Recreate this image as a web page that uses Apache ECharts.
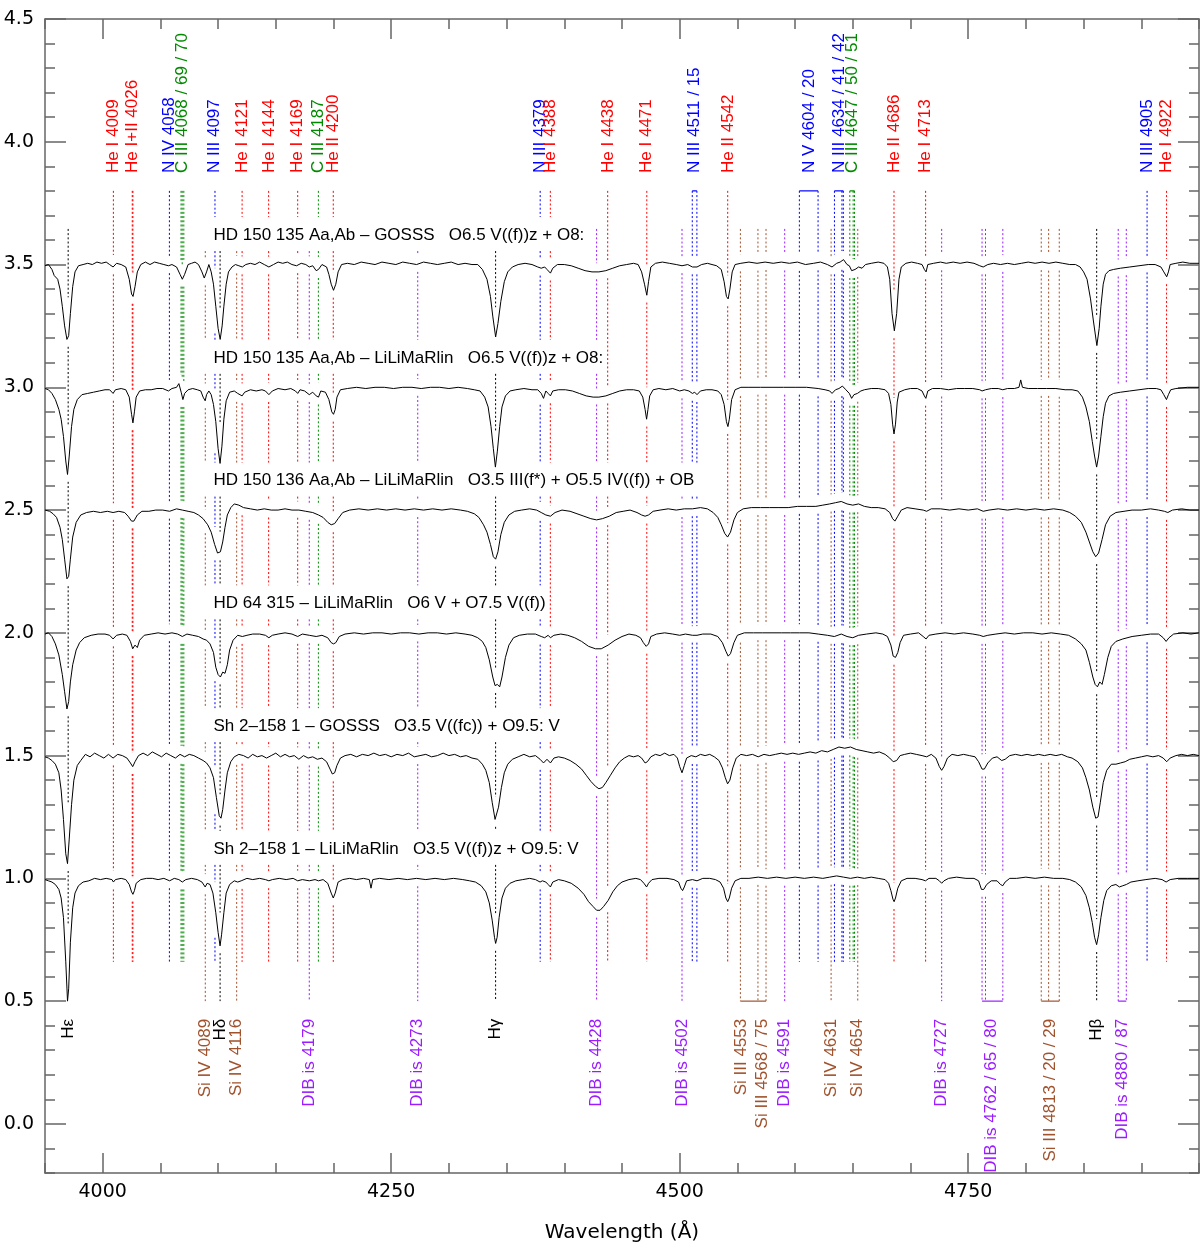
<!DOCTYPE html>
<html><head><meta charset="utf-8">
<script src="https://cdn.jsdelivr.net/npm/echarts@6/dist/echarts.min.js"></script>
<style>html,body{margin:0;padding:0;background:#fff}#c{width:1200px;height:1249px}</style>
</head><body><div id="c"></div>
<script>
// ---------------- DATA ----------------
const xMajorTicks = [4000, 4250, 4500, 4750];
const xMinorTicks = [3950,4050,4100,4150,4200,4300,4350,4400,4450,4550,4600,4650,4700,4800,4850,4900,4950];
const yMajorTicks = [0.0,0.5,1.0,1.5,2.0,2.5,3.0,3.5,4.0,4.5];
const yMinorTicks = [-0.2,-0.1,0.1,0.2,0.3,0.4,0.6,0.7,0.8,0.9,1.1,1.2,1.3,1.4,1.6,1.7,1.8,1.9,2.1,2.2,2.3,2.4,2.6,2.7,2.8,2.9,3.1,3.2,3.3,3.4,3.6,3.7,3.8,3.9,4.1,4.2,4.3,4.4];

const specNames = [
 "HD 150 135 Aa,Ab – GOSSS   O6.5 V((f))z + O8:",
 "HD 150 135 Aa,Ab – LiLiMaRlin   O6.5 V((f))z + O8:",
 "HD 150 136 Aa,Ab – LiLiMaRlin   O3.5 III(f*) + O5.5 IV((f)) + OB",
 "HD 64 315 – LiLiMaRlin   O6 V + O7.5 V((f))",
 "Sh 2–158 1 – GOSSS   O3.5 V((fc)) + O9.5: V",
 "Sh 2–158 1 – LiLiMaRlin   O3.5 V((f))z + O9.5: V"
];
const specContinuum = [3.5, 3.0, 2.5, 2.0, 1.5, 1.0];

const spec1 = [[3950,3.495],[3953,3.50],[3956,3.48],[3958,3.455],[3961,3.44],[3963,3.40],[3965,3.33],[3967,3.25],[3969,3.195],[3970.5,3.21],[3972,3.30],[3974,3.41],[3976,3.47],[3979,3.495],[3983,3.50],[3987,3.505],[3991,3.50],[3995,3.51],[3999,3.505],[4003,3.51],[4006,3.50],[4009,3.49],[4012,3.505],[4016,3.50],[4020,3.49],[4023,3.44],[4025,3.38],[4026.3,3.37],[4028,3.41],[4030,3.47],[4033,3.50],[4037,3.51],[4041,3.50],[4045,3.51],[4049,3.505],[4053,3.50],[4057,3.495],[4060,3.50],[4064,3.49],[4067,3.46],[4069,3.44],[4071,3.46],[4074,3.50],[4077,3.505],[4080,3.51],[4083,3.50],[4086,3.47],[4088,3.445],[4090,3.47],[4092,3.50],[4094,3.47],[4096,3.42],[4098,3.33],[4100,3.24],[4101.8,3.195],[4103.5,3.25],[4105,3.33],[4107,3.42],[4109,3.47],[4112,3.49],[4115,3.50],[4118,3.495],[4121,3.49],[4124,3.50],[4128,3.505],[4132,3.50],[4136,3.51],[4140,3.50],[4144,3.49],[4148,3.50],[4152,3.51],[4156,3.505],[4160,3.51],[4164,3.50],[4168,3.495],[4172,3.505],[4176,3.50],[4179,3.49],[4182,3.495],[4185,3.475],[4187,3.48],[4190,3.50],[4194,3.49],[4196,3.46],[4198,3.42],[4200,3.395],[4202,3.42],[4204,3.47],[4207,3.50],[4212,3.505],[4218,3.50],[4224,3.51],[4230,3.505],[4236,3.50],[4242,3.51],[4248,3.505],[4254,3.50],[4260,3.51],[4266,3.505],[4272,3.50],[4278,3.51],[4284,3.505],[4290,3.50],[4296,3.505],[4302,3.51],[4308,3.50],[4314,3.505],[4320,3.50],[4325,3.50],[4329,3.48],[4333,3.44],[4336,3.37],[4338,3.29],[4340.5,3.205],[4342.5,3.26],[4345,3.35],[4348,3.43],[4351,3.47],[4355,3.49],[4360,3.50],[4366,3.505],[4372,3.50],[4377,3.49],[4380,3.485],[4383,3.49],[4385,3.48],[4388,3.465],[4390,3.485],[4394,3.50],[4400,3.50],[4406,3.495],[4412,3.485],[4418,3.475],[4424,3.47],[4430,3.47],[4436,3.475],[4442,3.485],[4448,3.495],[4454,3.50],[4460,3.505],[4464,3.50],[4467,3.47],[4469.5,3.42],[4471.5,3.375],[4473,3.43],[4475,3.49],[4479,3.505],[4485,3.51],[4491,3.505],[4497,3.50],[4502,3.495],[4507,3.50],[4511,3.49],[4515,3.49],[4519,3.50],[4524,3.505],[4528,3.50],[4532,3.495],[4536,3.48],[4538.5,3.43],[4540.5,3.37],[4542,3.36],[4543.5,3.40],[4545.5,3.47],[4548,3.50],[4553,3.505],[4560,3.51],[4567,3.505],[4574,3.51],[4581,3.505],[4588,3.51],[4595,3.505],[4602,3.51],[4609,3.50],[4616,3.505],[4622,3.51],[4628,3.50],[4632,3.49],[4636,3.505],[4639,3.51],[4642,3.52],[4645,3.50],[4647,3.495],[4649,3.475],[4652,3.48],[4655,3.49],[4658,3.485],[4661,3.50],[4666,3.505],[4672,3.51],[4677,3.505],[4680,3.49],[4682,3.44],[4684,3.30],[4686,3.23],[4688,3.30],[4690,3.44],[4692,3.49],[4696,3.505],[4701,3.51],[4706,3.505],[4710,3.50],[4712,3.48],[4713.5,3.47],[4715,3.50],[4720,3.505],[4726,3.51],[4731,3.505],[4737,3.51],[4743,3.505],[4749,3.51],[4755,3.505],[4760,3.495],[4763,3.49],[4767,3.50],[4772,3.505],[4778,3.50],[4784,3.505],[4790,3.50],[4796,3.505],[4802,3.51],[4808,3.505],[4814,3.51],[4820,3.505],[4826,3.51],[4832,3.505],[4838,3.50],[4843,3.50],[4847,3.49],[4850,3.47],[4853,3.44],[4856,3.36],[4858.5,3.27],[4861.5,3.17],[4863.5,3.24],[4865,3.33],[4867,3.42],[4869,3.46],[4872,3.475],[4876,3.48],[4882,3.485],[4890,3.49],[4898,3.495],[4906,3.50],[4912,3.50],[4917,3.49],[4919.5,3.47],[4922,3.45],[4923.5,3.47],[4925,3.50],[4930,3.505],[4936,3.51],[4942,3.505],[4950,3.505]];

const spec2 = [[3950,2.995],[3953,2.99],[3956,2.975],[3959,2.95],[3962,2.91],[3964,2.87],[3966,2.80],[3968,2.70],[3969.5,2.645],[3971,2.72],[3973,2.84],[3975,2.91],[3978,2.95],[3982,2.97],[3987,2.975],[3992,2.98],[3997,2.985],[4002,2.99],[4006,2.99],[4009,2.975],[4011,2.99],[4016,2.995],[4020,2.99],[4023,2.96],[4025,2.89],[4026.2,2.855],[4027.5,2.90],[4029,2.96],[4032,2.985],[4037,2.99],[4042,2.99],[4047,2.995],[4052,2.995],[4057,2.985],[4060,2.995],[4064,3.00],[4066,3.015],[4068,2.98],[4069.5,2.95],[4071,2.975],[4074,2.99],[4078,2.995],[4082,2.99],[4085,2.985],[4087,2.96],[4088.8,2.945],[4090,2.97],[4092,2.985],[4094,2.97],[4096,2.93],[4098,2.86],[4100,2.75],[4101.7,2.69],[4103.3,2.76],[4105,2.87],[4107,2.945],[4110,2.98],[4114,2.985],[4117,2.975],[4120.8,2.965],[4123,2.98],[4128,2.99],[4133,2.985],[4138,2.99],[4141,2.985],[4144,2.97],[4147,2.985],[4152,2.995],[4158,2.99],[4163,2.995],[4167,2.985],[4169,2.975],[4171,2.99],[4175,2.985],[4179,2.97],[4182,2.98],[4185,2.965],[4187,2.96],[4189,2.985],[4193,2.98],[4196,2.95],[4198.5,2.90],[4200,2.89],[4201.5,2.91],[4203,2.96],[4206,2.99],[4212,2.995],[4220,3.00],[4228,2.995],[4236,3.00],[4244,3.00],[4252,2.995],[4260,3.00],[4268,3.00],[4276,2.995],[4284,3.00],[4292,3.00],[4300,2.995],[4308,3.00],[4316,2.995],[4322,2.99],[4327,2.985],[4331,2.96],[4334,2.92],[4336.5,2.84],[4338.5,2.75],[4340.3,2.675],[4342,2.74],[4344,2.84],[4346,2.92],[4349,2.965],[4353,2.985],[4358,2.99],[4365,2.995],[4372,2.99],[4377,2.99],[4380,2.975],[4382,2.955],[4384,2.985],[4386,2.975],[4388,2.965],[4390,2.985],[4395,2.99],[4401,2.99],[4407,2.985],[4413,2.975],[4419,2.965],[4425,2.96],[4430,2.96],[4436,2.965],[4442,2.975],[4448,2.985],[4454,2.99],[4460,2.99],[4465,2.985],[4468,2.96],[4470,2.91],[4471.3,2.87],[4472.5,2.91],[4474,2.965],[4477,2.99],[4482,2.995],[4488,2.99],[4494,2.995],[4500,2.985],[4504,2.99],[4508,2.985],[4511,2.975],[4513,2.98],[4515,2.97],[4518,2.985],[4523,2.99],[4528,2.99],[4533,2.985],[4536,2.97],[4538.5,2.93],[4540.5,2.86],[4541.8,2.84],[4543,2.87],[4545,2.95],[4548,2.99],[4553,3.00],[4560,3.00],[4570,3.00],[4580,3.00],[4590,3.00],[4600,3.00],[4610,3.00],[4620,2.995],[4626,2.99],[4630,2.985],[4632,2.975],[4635,2.99],[4638,2.995],[4641,3.005],[4644,2.99],[4647,2.975],[4649,2.955],[4651,2.97],[4654,2.975],[4657,2.985],[4660,2.99],[4666,2.995],[4672,2.995],[4678,2.99],[4681,2.975],[4683,2.93],[4684.5,2.85],[4685.7,2.81],[4687,2.85],[4688.5,2.94],[4690,2.98],[4695,2.99],[4700,2.995],[4706,2.995],[4710,2.985],[4712,2.965],[4713.3,2.955],[4715,2.985],[4719,2.995],[4726,2.995],[4733,2.99],[4740,2.995],[4747,2.995],[4754,2.995],[4760,2.99],[4762,2.985],[4765,2.99],[4770,2.995],[4776,2.995],[4780,2.99],[4784,2.995],[4790,2.995],[4794,3.00],[4795.5,3.03],[4797,3.00],[4802,2.995],[4810,2.995],[4818,2.995],[4826,2.995],[4834,2.99],[4840,2.99],[4845,2.985],[4849,2.96],[4852,2.92],[4855,2.86],[4857.5,2.78],[4859.5,2.72],[4861.3,2.675],[4863,2.72],[4865,2.80],[4867,2.88],[4869,2.935],[4872,2.965],[4876,2.975],[4882,2.98],[4890,2.985],[4898,2.99],[4906,2.995],[4913,2.995],[4917,2.99],[4919.5,2.97],[4921.8,2.95],[4923.5,2.97],[4925.5,2.99],[4930,2.995],[4940,3.00],[4950,3.00]];

const spec3 = [[3950,2.50],[3954,2.495],[3957,2.485],[3960,2.47],[3963,2.43],[3965,2.38],[3967,2.30],[3969,2.22],[3970.5,2.23],[3972,2.30],[3974,2.39],[3977,2.45],[3981,2.48],[3986,2.49],[3992,2.495],[3998,2.49],[4004,2.495],[4009,2.49],[4014,2.495],[4019,2.49],[4022,2.475],[4025,2.455],[4027,2.455],[4030,2.48],[4034,2.495],[4040,2.495],[4046,2.50],[4052,2.50],[4058,2.495],[4064,2.505],[4069,2.50],[4074,2.495],[4079,2.49],[4083,2.48],[4087,2.465],[4091,2.44],[4094,2.41],[4097,2.36],[4099.5,2.325],[4102,2.33],[4104,2.37],[4106,2.43],[4108,2.48],[4111,2.51],[4114,2.525],[4118,2.52],[4122,2.51],[4128,2.505],[4134,2.50],[4140,2.505],[4146,2.50],[4152,2.50],[4158,2.505],[4164,2.50],[4170,2.50],[4176,2.495],[4182,2.49],[4187,2.48],[4191,2.47],[4195,2.45],[4198,2.44],[4201,2.445],[4204,2.465],[4208,2.49],[4214,2.50],[4222,2.505],[4230,2.50],[4238,2.505],[4246,2.50],[4254,2.505],[4262,2.50],[4270,2.505],[4278,2.50],[4286,2.505],[4294,2.50],[4302,2.505],[4310,2.50],[4316,2.495],[4322,2.485],[4326,2.47],[4330,2.44],[4333,2.41],[4336,2.36],[4338.5,2.31],[4340.5,2.30],[4342.5,2.33],[4345,2.40],[4348,2.45],[4352,2.48],[4357,2.495],[4363,2.50],[4370,2.505],[4376,2.50],[4380,2.49],[4384,2.48],[4388,2.475],[4392,2.49],[4398,2.50],[4405,2.495],[4411,2.485],[4417,2.475],[4423,2.465],[4428,2.46],[4433,2.465],[4439,2.475],[4445,2.49],[4451,2.495],[4457,2.50],[4463,2.49],[4467,2.48],[4470,2.475],[4473,2.48],[4477,2.495],[4483,2.50],[4490,2.505],[4497,2.50],[4504,2.505],[4511,2.505],[4518,2.51],[4524,2.505],[4529,2.49],[4533,2.47],[4536,2.44],[4539,2.405],[4541.5,2.39],[4544,2.41],[4547,2.46],[4550,2.49],[4555,2.505],[4562,2.51],[4570,2.51],[4578,2.51],[4586,2.51],[4594,2.51],[4602,2.515],[4610,2.515],[4618,2.515],[4624,2.52],[4630,2.525],[4635,2.53],[4640,2.535],[4645,2.525],[4650,2.52],[4655,2.525],[4660,2.515],[4666,2.51],[4672,2.51],[4678,2.505],[4682,2.49],[4684.5,2.465],[4686.5,2.455],[4689,2.475],[4692,2.50],[4697,2.51],[4704,2.505],[4711,2.50],[4714,2.495],[4718,2.505],[4726,2.505],[4734,2.50],[4742,2.505],[4750,2.50],[4758,2.505],[4763,2.495],[4768,2.50],[4776,2.505],[4784,2.50],[4792,2.505],[4800,2.50],[4808,2.505],[4816,2.50],[4824,2.505],[4832,2.50],[4838,2.49],[4843,2.475],[4848,2.45],[4852,2.41],[4855,2.37],[4858,2.33],[4860.5,2.31],[4863,2.325],[4866,2.38],[4869,2.44],[4873,2.475],[4878,2.49],[4885,2.495],[4892,2.50],[4900,2.50],[4908,2.505],[4915,2.50],[4920,2.495],[4923,2.49],[4927,2.50],[4935,2.505],[4942,2.50],[4950,2.50]];

const spec4 = [[3950,1.995],[3953,2.00],[3956,1.985],[3959,1.955],[3962,1.91],[3965,1.83],[3967,1.76],[3969,1.69],[3970.5,1.72],[3972,1.80],[3974,1.87],[3977,1.93],[3980,1.96],[3984,1.98],[3990,1.99],[3996,1.995],[4002,1.995],[4006,1.99],[4009,1.975],[4012,1.99],[4017,1.995],[4021,1.99],[4024,1.965],[4026,1.935],[4028,1.95],[4030,1.94],[4032,1.97],[4036,1.99],[4042,1.995],[4048,2.00],[4054,1.995],[4060,2.00],[4065,1.995],[4069,1.985],[4073,1.995],[4078,1.99],[4083,1.985],[4087,1.975],[4090,1.97],[4093,1.955],[4096,1.92],[4098,1.86],[4100,1.83],[4102,1.82],[4104,1.84],[4106,1.835],[4108,1.87],[4110,1.93],[4113,1.97],[4117,1.99],[4121,1.985],[4125,1.99],[4130,1.995],[4136,1.995],[4141,1.99],[4144,1.98],[4147,1.99],[4152,1.995],[4158,2.00],[4164,1.995],[4169,1.985],[4173,1.995],[4179,1.99],[4185,1.985],[4190,1.99],[4195,1.98],[4198,1.96],[4200,1.955],[4202,1.96],[4205,1.985],[4210,1.995],[4218,2.00],[4226,1.995],[4234,2.00],[4242,2.00],[4250,1.995],[4258,2.00],[4266,2.00],[4274,1.995],[4282,2.00],[4290,2.00],[4298,1.995],[4306,2.00],[4314,1.995],[4320,1.99],[4325,1.98],[4329,1.965],[4332,1.94],[4335,1.89],[4338,1.82],[4340,1.785],[4342,1.79],[4344,1.78],[4346,1.82],[4349,1.90],[4352,1.95],[4356,1.98],[4361,1.99],[4368,1.995],[4375,1.995],[4380,1.985],[4383,1.98],[4386,1.99],[4388,1.98],[4391,1.99],[4397,1.995],[4403,1.99],[4409,1.98],[4415,1.965],[4421,1.945],[4427,1.935],[4432,1.935],[4438,1.95],[4444,1.97],[4450,1.985],[4456,1.995],[4462,1.99],[4466,1.98],[4468.5,1.96],[4471,1.945],[4473,1.955],[4475,1.985],[4480,1.995],[4487,2.00],[4494,1.995],[4500,1.99],[4505,1.995],[4511,1.99],[4515,1.99],[4520,1.995],[4527,1.995],[4533,1.985],[4537,1.96],[4540,1.925],[4542,1.905],[4544,1.915],[4547,1.96],[4550,1.99],[4556,2.00],[4564,2.00],[4572,2.00],[4580,2.00],[4588,2.00],[4596,2.00],[4604,2.00],[4612,2.00],[4620,1.995],[4628,1.99],[4634,1.985],[4640,1.995],[4645,1.985],[4650,1.98],[4655,1.99],[4662,1.995],[4670,2.00],[4676,1.995],[4680,1.985],[4683,1.95],[4685,1.905],[4687,1.90],[4689,1.92],[4691,1.96],[4694,1.99],[4700,1.995],[4707,2.00],[4711,1.985],[4713.5,1.975],[4716,1.99],[4722,1.995],[4730,2.00],[4738,1.995],[4746,2.00],[4754,1.995],[4760,1.99],[4763,1.985],[4767,1.99],[4774,1.995],[4782,2.00],[4790,1.995],[4798,2.00],[4806,2.00],[4814,1.995],[4822,2.00],[4830,1.995],[4837,1.99],[4843,1.975],[4848,1.955],[4852,1.93],[4855,1.88],[4858,1.82],[4860,1.79],[4862,1.78],[4864,1.80],[4866,1.79],[4868,1.83],[4871,1.90],[4874,1.945],[4878,1.965],[4884,1.975],[4892,1.985],[4900,1.99],[4908,1.995],[4915,1.995],[4919,1.98],[4921.5,1.965],[4924,1.98],[4928,1.995],[4936,2.00],[4943,1.995],[4950,2.00]];

const spec5 = [[3950,1.495],[3953,1.49],[3956,1.48],[3959,1.465],[3962,1.43],[3964,1.36],[3966,1.24],[3968,1.10],[3969.5,1.06],[3971,1.16],[3973,1.30],[3975,1.40],[3978,1.46],[3981,1.48],[3985,1.505],[3989,1.495],[3993,1.51],[3997,1.50],[4001,1.49],[4005,1.505],[4009,1.49],[4013,1.505],[4017,1.50],[4021,1.49],[4024,1.47],[4026,1.455],[4028,1.475],[4031,1.50],[4035,1.51],[4039,1.50],[4043,1.515],[4047,1.505],[4051,1.495],[4055,1.51],[4059,1.50],[4063,1.49],[4067,1.505],[4071,1.495],[4075,1.505],[4079,1.50],[4083,1.49],[4087,1.48],[4090,1.47],[4093,1.45],[4096,1.41],[4098.5,1.33],[4101,1.255],[4102.5,1.245],[4104,1.28],[4106,1.36],[4108,1.43],[4111,1.475],[4114,1.495],[4118,1.505],[4122,1.50],[4126,1.49],[4130,1.505],[4134,1.495],[4138,1.50],[4142,1.49],[4146,1.50],[4150,1.51],[4154,1.495],[4158,1.505],[4162,1.495],[4166,1.50],[4170,1.485],[4174,1.50],[4178,1.49],[4182,1.495],[4186,1.485],[4190,1.49],[4194,1.475],[4197,1.445],[4199,1.425],[4201,1.43],[4203,1.46],[4206,1.49],[4210,1.50],[4215,1.505],[4220,1.495],[4225,1.505],[4230,1.50],[4235,1.51],[4240,1.50],[4245,1.505],[4250,1.495],[4255,1.505],[4260,1.50],[4265,1.51],[4270,1.495],[4275,1.50],[4280,1.505],[4285,1.495],[4290,1.50],[4295,1.51],[4300,1.50],[4305,1.505],[4310,1.495],[4315,1.50],[4320,1.49],[4325,1.485],[4329,1.465],[4332,1.44],[4335,1.39],[4337.5,1.31],[4340,1.24],[4341.5,1.245],[4343,1.29],[4345.5,1.37],[4348,1.43],[4351,1.465],[4355,1.485],[4360,1.495],[4365,1.505],[4370,1.495],[4375,1.50],[4379,1.485],[4382,1.47],[4385,1.485],[4388,1.47],[4391,1.49],[4395,1.495],[4400,1.49],[4405,1.48],[4410,1.465],[4415,1.445],[4419,1.42],[4423,1.395],[4427,1.375],[4430,1.365],[4433,1.37],[4436,1.39],[4440,1.42],[4444,1.45],[4448,1.475],[4452,1.49],[4456,1.50],[4460,1.495],[4464,1.50],[4467,1.49],[4470,1.47],[4472,1.475],[4475,1.495],[4479,1.505],[4483,1.50],[4487,1.51],[4491,1.50],[4495,1.505],[4498,1.49],[4500,1.455],[4502,1.43],[4504,1.46],[4506,1.49],[4510,1.50],[4514,1.495],[4518,1.505],[4522,1.50],[4526,1.505],[4530,1.495],[4534,1.48],[4537,1.45],[4539.5,1.41],[4541.5,1.385],[4543.5,1.40],[4546,1.45],[4549,1.49],[4553,1.505],[4558,1.50],[4563,1.505],[4568,1.495],[4573,1.505],[4578,1.50],[4583,1.505],[4588,1.51],[4593,1.505],[4598,1.51],[4603,1.505],[4608,1.51],[4613,1.515],[4618,1.51],[4623,1.52],[4628,1.515],[4633,1.525],[4638,1.535],[4643,1.53],[4648,1.535],[4653,1.525],[4658,1.52],[4663,1.515],[4668,1.51],[4673,1.515],[4678,1.505],[4682,1.49],[4685,1.475],[4688,1.48],[4691,1.50],[4695,1.505],[4700,1.51],[4705,1.505],[4710,1.50],[4714,1.495],[4718,1.505],[4722,1.49],[4725,1.455],[4727,1.44],[4729,1.455],[4732,1.49],[4736,1.505],[4741,1.50],[4746,1.505],[4751,1.50],[4756,1.495],[4759,1.475],[4762,1.445],[4764,1.445],[4767,1.47],[4771,1.49],[4775,1.495],[4779,1.48],[4782,1.485],[4786,1.50],[4791,1.505],[4796,1.50],[4801,1.505],[4806,1.50],[4811,1.505],[4816,1.50],[4821,1.505],[4826,1.50],[4831,1.505],[4836,1.495],[4840,1.49],[4845,1.475],[4849,1.45],[4852,1.41],[4855,1.36],[4858,1.29],[4860.5,1.245],[4862.5,1.25],[4864.5,1.31],[4867,1.39],[4870,1.44],[4874,1.465],[4878,1.465],[4882,1.47],[4886,1.475],[4890,1.485],[4895,1.49],[4900,1.495],[4905,1.50],[4910,1.495],[4915,1.50],[4919,1.49],[4922,1.475],[4925,1.49],[4930,1.50],[4935,1.505],[4940,1.50],[4945,1.505],[4950,1.50]];

const spec6 = [[3950,0.995],[3953,0.99],[3956,0.985],[3959,0.975],[3962,0.955],[3964,0.92],[3966,0.84],[3968,0.66],[3969.5,0.50],[3970.5,0.55],[3972,0.74],[3974,0.88],[3976,0.94],[3979,0.97],[3983,0.985],[3988,0.99],[3993,1.00],[3998,0.995],[4003,1.00],[4008,0.995],[4009.3,0.985],[4011,0.995],[4016,1.00],[4020,0.995],[4023,0.975],[4025,0.945],[4026.2,0.935],[4027.5,0.95],[4029,0.98],[4033,0.995],[4038,1.00],[4043,1.00],[4048,0.995],[4053,1.00],[4058,0.99],[4062,1.00],[4066,0.995],[4069,0.985],[4072,0.995],[4077,1.00],[4082,0.995],[4086,0.985],[4088.8,0.965],[4090.5,0.98],[4093,0.975],[4095.5,0.94],[4098,0.86],[4100,0.78],[4101.7,0.725],[4103,0.77],[4105,0.86],[4107,0.94],[4110,0.975],[4114,0.99],[4117,0.985],[4120,0.99],[4125,1.00],[4130,0.995],[4136,1.00],[4141,0.995],[4144,0.99],[4147,0.995],[4153,1.00],[4159,0.995],[4165,1.00],[4169,0.99],[4173,0.995],[4179,0.99],[4184,0.995],[4187,0.99],[4191,0.995],[4195,0.98],[4198,0.94],[4199.8,0.92],[4201.5,0.94],[4204,0.985],[4208,0.995],[4214,1.00],[4220,0.995],[4226,1.00],[4231,0.995],[4232.5,0.96],[4234,0.995],[4240,1.00],[4248,0.995],[4256,1.00],[4264,0.995],[4272,1.00],[4280,0.995],[4288,1.00],[4296,0.995],[4304,1.00],[4312,0.995],[4318,0.99],[4323,0.985],[4328,0.97],[4332,0.945],[4335,0.90],[4337.5,0.83],[4339.5,0.76],[4340.5,0.735],[4341.8,0.76],[4343.5,0.84],[4346,0.92],[4349,0.96],[4353,0.98],[4358,0.99],[4364,0.995],[4370,1.00],[4375,0.995],[4379,0.985],[4381,0.99],[4384,0.985],[4386,0.975],[4388,0.965],[4390,0.985],[4395,0.995],[4400,0.99],[4406,0.98],[4412,0.96],[4417,0.935],[4421,0.905],[4425,0.885],[4428,0.87],[4431,0.87],[4434,0.885],[4438,0.91],[4442,0.945],[4446,0.97],[4450,0.985],[4456,0.995],[4462,1.00],[4466,0.995],[4469,0.98],[4471.3,0.965],[4473,0.98],[4476,0.995],[4482,1.00],[4489,1.00],[4495,0.995],[4499,0.985],[4501,0.96],[4502.5,0.95],[4504,0.965],[4506,0.99],[4511,0.995],[4515,0.99],[4520,1.00],[4526,1.00],[4531,0.995],[4535,0.985],[4538,0.96],[4540,0.92],[4541.6,0.905],[4543,0.92],[4545,0.96],[4548,0.99],[4553,1.00],[4560,1.00],[4568,1.005],[4576,1.00],[4584,1.005],[4592,1.00],[4600,1.005],[4608,1.00],[4616,1.005],[4624,1.00],[4630,1.005],[4636,1.01],[4642,1.005],[4648,1.00],[4654,1.005],[4660,1.00],[4666,1.005],[4672,1.00],[4678,0.995],[4681,0.98],[4683,0.95],[4684.8,0.915],[4685.8,0.905],[4687,0.92],[4689,0.96],[4692,0.99],[4697,1.00],[4704,1.00],[4710,0.995],[4713,0.99],[4716,1.00],[4722,1.00],[4725,0.99],[4727,0.98],[4729,0.99],[4733,1.00],[4740,1.005],[4748,1.00],[4755,1.00],[4759,0.99],[4761.5,0.955],[4763.5,0.955],[4766,0.975],[4770,0.99],[4775,0.99],[4778,0.975],[4780,0.97],[4782,0.985],[4786,1.00],[4792,1.00],[4800,1.005],[4808,1.00],[4816,1.005],[4824,1.00],[4832,1.00],[4838,0.995],[4843,0.985],[4848,0.965],[4852,0.93],[4855,0.88],[4857.5,0.82],[4859.5,0.76],[4861.3,0.73],[4863,0.77],[4865,0.84],[4867.5,0.91],[4870,0.95],[4874,0.97],[4878,0.975],[4881,0.965],[4884,0.97],[4887,0.975],[4891,0.985],[4897,0.99],[4904,0.995],[4912,1.00],[4918,0.995],[4921.5,0.985],[4925,0.995],[4932,1.00],[4940,1.00],[4950,1.00]];

// line identifications (wavelengths in Angstrom)
const heLines  = [4009.26, 4025.6, 4026.2, 4120.8, 4143.8, 4168.97, 4199.8, 4387.9, 4437.6, 4471.5, 4541.6, 4685.7, 4713.1, 4921.9];
const nLines   = [4057.8, 4097.3, 4379.1, 4510.9, 4514.9, 4603.7, 4619.9, 4634.1, 4640.6, 4641.8, 4905.0];
const cLines   = [4067.9, 4068.9, 4070.3, 4186.9, 4647.4, 4650.3, 4651.5];
const hLines   = [3970.07, 4101.74, 4340.47, 4861.33];
const siLines  = [4088.9, 4116.1, 4552.6, 4567.8, 4574.8, 4631.2, 4654.3, 4813.3, 4819.7, 4828.9];
const dibLines = [4179, 4273, 4428, 4502, 4591, 4727, 4762, 4765, 4780, 4880, 4887];

const topLabelText = ["He I 4009","He I+II 4026","N IV 4058","C III 4068 / 69 / 70","N III 4097","He I 4121","He I 4144","He I 4169","C III 4187","He II 4200","N III 4379","He I 4388","He I 4438","He I 4471","N III 4511 / 15","He II 4542","N V 4604 / 20","N III 4634 / 41 / 42","C III 4647 / 50 / 51","He II 4686","He I 4713","N III 4905","He I 4922"];
const topLabelWave = [4009,4026,4058,4069,4097,4121,4144,4169,4187,4200,4379,4388,4438,4471,4513,4542,4612,4638,4650,4686,4713,4905,4922];
const topLabelKind = ["He","He","N","C","N","He","He","He","C","He","N","He","He","He","N","He","N","N","C","He","He","N","He"];

const botLabelText = ["Hε","Si IV 4089","Hδ","Si IV 4116","DIB is 4179","DIB is 4273","Hγ","DIB is 4428","DIB is 4502","Si III 4553","Si III 4568 / 75","DIB is 4591","Si IV 4631","Si IV 4654","DIB is 4727","DIB is 4762 / 65 / 80","Si III 4813 / 20 / 29","Hβ","DIB is 4880 / 87"];
const botLabelWave = [3970,4089,4102,4116,4179,4273,4340,4428,4502,4553,4571.5,4591,4631,4654,4727,4770,4821,4861,4883.5];
const botLabelKind = ["H","Si","H","Si","DIB","DIB","H","DIB","DIB","Si","Si","DIB","Si","Si","DIB","DIB","Si","H","DIB"];

const topBrackets = [[4510.9,4514.9,"N"],[4603.7,4619.9,"N"],[4634.1,4641.8,"N"],[4647.4,4651.5,"C"]];
const botBrackets = [[4552.6,4574.8,"Si"],[4762,4780,"DIB"],[4813.3,4828.9,"Si"],[4880,4887,"DIB"]];

// ---------------- STYLE ----------------
const kindColor = {He:'#ff0000', N:'#0000ff', C:'#008a00', H:'#000000', Si:'#a0522d', DIB:'#9a1cff'};
const TOP_RANGE = [0.66, 3.80];
const BOT_RANGE = [0.50, 3.645];
const TOP_LABEL_Y = 3.873;
const BOT_LABEL_Y = 0.428;
const NAME_X = 4096;
const NAME_DY = 0.12;
const ANN_FONT = '17px "Liberation Sans", Arial, sans-serif';
const AX_FONT = 'DejaVu Sans';
const spectra = [spec1, spec2, spec3, spec4, spec5, spec6];

const markers = [];
heLines.forEach(w=>markers.push({w, grp:0, kind:'He'}));
nLines.forEach(w=>markers.push({w, grp:0, kind:'N'}));
cLines.forEach(w=>markers.push({w, grp:0, kind:'C'}));
hLines.forEach(w=>markers.push({w, grp:1, kind:'H'}));
siLines.forEach(w=>markers.push({w, grp:1, kind:'Si'}));
dibLines.forEach(w=>markers.push({w, grp:1, kind:'DIB'}));

function interp(s, x){
  if (x <= s[0][0]) return s[0][1];
  for (let i=1;i<s.length;i++){
    if (s[i][0] >= x){ const a=s[i-1], b=s[i]; const t=(x-a[0])/(b[0]-a[0]); return a[1]+t*(b[1]-a[1]); }
  }
  return s[s.length-1][1];
}
function fluxRange(s, w, h){
  let vals = [interp(s,w-h), interp(s,w), interp(s,w+h)];
  s.forEach(p=>{ if (p[0]>w-h && p[0]<w+h) vals.push(p[1]); });
  return [Math.min(...vals), Math.max(...vals)];
}
function subtract(segs, a, b){
  const out=[];
  segs.forEach(([lo,hi])=>{
    if (b<=lo || a>=hi){ out.push([lo,hi]); return; }
    if (a>lo) out.push([lo,a]);
    if (b<hi) out.push([b,hi]);
  });
  return out;
}
const mctx = document.createElement('canvas').getContext('2d');
mctx.font = ANN_FONT;
const nameWidths = specNames.map(t=>mctx.measureText(t).width);

function renderMarker(params, api){
  const m = markers[api.value(2)];
  const x = api.coord([m.w, 0])[0];
  const r = m.grp===0 ? TOP_RANGE : BOT_RANGE;
  let segs = [[r[0], r[1]]];
  spectra.forEach(s=>{
    const fr = fluxRange(s, m.w, 2.5);
    segs = subtract(segs, fr[0]-0.03, fr[1]+0.035);
  });
  let px = segs.map(([lo,hi])=>[api.coord([m.w,hi])[1], api.coord([m.w,lo])[1]]);
  specNames.forEach((t,k)=>{
    const p = api.coord([NAME_X, specContinuum[k]+NAME_DY]);
    if (x >= p[0]-10 && x <= p[0]+nameWidths[k]+4) px = subtract(px, p[1]-18, p[1]+16);
  });
  const children = px.filter(([a,b])=>b-a>1).map(([a,b])=>({
    type:'line', shape:{x1:x, y1:a, x2:x, y2:b},
    style:{stroke:kindColor[m.kind], lineWidth:1, lineDash:[2,2.2]}
  }));
  return {type:'group', children};
}
function renderBracket(list, yv){
  return function(params, api){
    const b = list[api.value(2)];
    const p1 = api.coord([b[0], yv]), p2 = api.coord([b[1], yv]);
    return {type:'line', shape:{x1:p1[0], y1:p1[1], x2:p2[0], y2:p2[1]}, style:{stroke:kindColor[b[2]], lineWidth:1.2}};
  };
}
function renderTopLabel(params, api){
  const i = api.value(2); const p = api.coord([api.value(0), api.value(1)]);
  return {type:'text', x:p[0], y:p[1], rotation:Math.PI/2,
    style:{text:topLabelText[i], fill:kindColor[topLabelKind[i]], font:ANN_FONT, align:'left', verticalAlign:'middle'}};
}
function renderBotLabel(params, api){
  const i = api.value(2); const p = api.coord([api.value(0), api.value(1)]);
  return {type:'text', x:p[0], y:p[1], rotation:Math.PI/2,
    style:{text:botLabelText[i], fill:kindColor[botLabelKind[i]], font:ANN_FONT, align:'right', verticalAlign:'middle'}};
}
function renderName(params, api){
  const i = api.value(2); const p = api.coord([api.value(0), api.value(1)]);
  return {type:'text', x:p[0], y:p[1],
    style:{text:specNames[i], fill:'#000', font:ANN_FONT, align:'left', verticalAlign:'middle'}};
}

const axColor = '#666';
function xAx(pos, ticks, len, labels, line){
  return {type:'value', min:3950, max:4950, position:pos, gridIndex:0,
    axisLine:{show:line, onZero:false, lineStyle:{color:axColor, width:1.5}},
    axisTick:{show:true, inside:true, length:len, customValues:ticks, lineStyle:{color:axColor, width:1.5}},
    axisLabel:labels ? {show:true, customValues:ticks, color:'#000', fontSize:19, fontFamily:AX_FONT, margin:10, formatter:v=>String(v)} : {show:false},
    splitLine:{show:false}, minorTick:{show:false}};
}
function yAx(pos, ticks, len, labels, line){
  return {type:'value', min:-0.2, max:4.5, position:pos, gridIndex:0,
    axisLine:{show:line, onZero:false, lineStyle:{color:axColor, width:1.5}},
    axisTick:{show:true, inside:true, length:len, customValues:ticks, lineStyle:{color:axColor, width:1.5}},
    axisLabel:labels ? {show:true, customValues:ticks, color:'#000', fontSize:19, fontFamily:AX_FONT, margin:11, formatter:v=>v.toFixed(1)} : {show:false},
    splitLine:{show:false}, minorTick:{show:false}};
}
const xAxes = [xAx('bottom', xMajorTicks, 20, true, true), xAx('bottom', xMinorTicks, 10, false, false), xAx('top', xMajorTicks, 20, false, true), xAx('top', xMinorTicks, 10, false, false)];
xAxes[0].name = 'Wavelength (Å)';
xAxes[0].nameLocation = 'middle';
xAxes[0].nameGap = 50;
xAxes[0].nameTextStyle = {fontSize:20, fontFamily:AX_FONT, color:'#000'};
const yAxes = [yAx('left', yMajorTicks, 21, true, true), yAx('left', yMinorTicks, 10, false, false), yAx('right', yMajorTicks, 21, false, true), yAx('right', yMinorTicks, 10, false, false)];

const series = [];
series.push({type:'custom', renderItem:renderMarker, data:markers.map((m,i)=>[m.w, 2, i]), z:1, silent:true, clip:true});
series.push({type:'custom', renderItem:renderBracket(topBrackets, TOP_RANGE[1]), data:topBrackets.map((b,i)=>[b[0],2,i]), z:1, silent:true});
series.push({type:'custom', renderItem:renderBracket(botBrackets, BOT_RANGE[0]), data:botBrackets.map((b,i)=>[b[0],2,i]), z:1, silent:true});
spectra.forEach(s=>series.push({type:'line', data:s, showSymbol:false, symbol:'none', lineStyle:{color:'#000', width:1}, itemStyle:{color:'#000'}, z:3, silent:true, clip:true}));
series.push({type:'custom', renderItem:renderTopLabel, data:topLabelWave.map((w,i)=>[w, TOP_LABEL_Y, i]), z:4, silent:true});
series.push({type:'custom', renderItem:renderBotLabel, data:botLabelWave.map((w,i)=>[w, BOT_LABEL_Y, i]), z:4, silent:true});
series.push({type:'custom', renderItem:renderName, data:specNames.map((t,i)=>[NAME_X, specContinuum[i]+NAME_DY, i]), z:4, silent:true});

const chart = echarts.init(document.getElementById('c'), null, {renderer:'canvas'});
chart.setOption({
  animation:false,
  backgroundColor:'#fff',
  grid:{left:45, right:1, top:19, bottom:76, containLabel:false},
  xAxis:xAxes, yAxis:yAxes, series
});
</script></body></html>
